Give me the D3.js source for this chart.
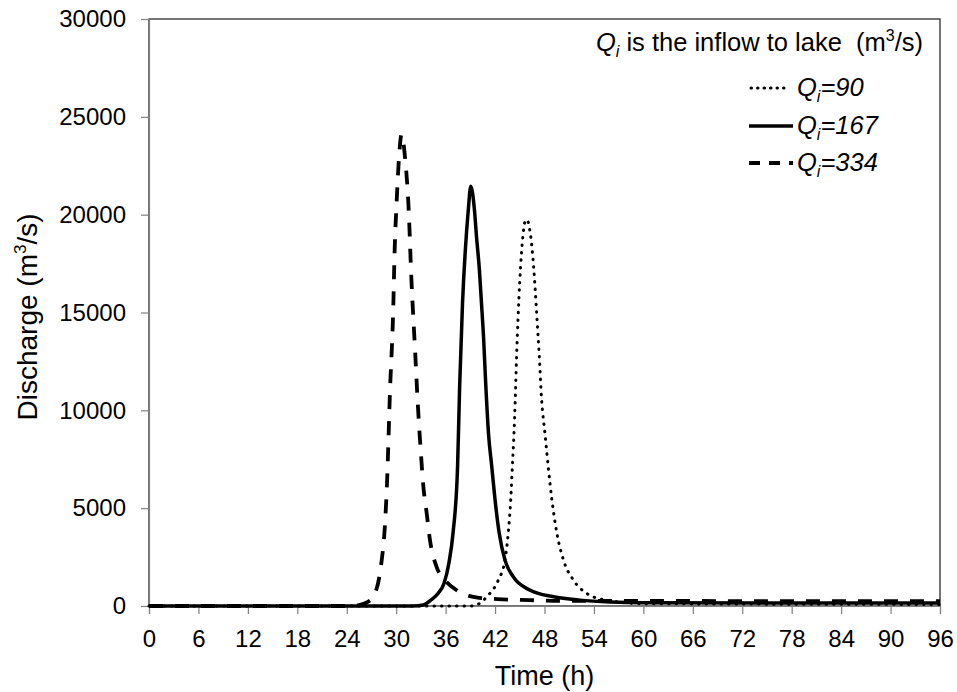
<!DOCTYPE html>
<html>
<head>
<meta charset="utf-8">
<script src="https://cdn.jsdelivr.net/npm/d3@7"></script>
<style>
  body { margin: 0; background: #fff; }
  svg { display: block; font-family: Arial, "Liberation Sans", sans-serif; }
</style>
</head>
<body>
<svg id="chart" width="957" height="692"></svg>
<script>
// ---------- data ----------
const xTickValues = [0, 6, 12, 18, 24, 30, 36, 42, 48, 54, 60, 66, 72, 78, 84, 90, 96];
const yTickValues = [0, 5000, 10000, 15000, 20000, 25000, 30000];

const seriesNames = ["90", "167", "334"];

// Qi = 90 (dotted)
const time90 = [0, 39, 40.2, 41, 42.4, 43.2, 43.6, 43.9, 44.1, 44.3, 44.45, 44.6, 44.8, 45.0, 45.2, 45.4, 45.6, 45.85, 46.2, 46.55, 46.85, 47.1, 47.35, 47.65, 48.05, 48.45, 48.9, 49.5, 50.3, 51.5, 53.1, 55.5, 60, 96];
const flow90 = [0, 0, 150, 475, 1330, 2350, 3730, 5420, 7120, 8840, 10530, 12600, 14800, 16600, 18000, 19000, 19600, 19750, 19250, 18000, 16300, 14600, 12900, 10530, 8840, 7120, 5420, 3730, 2350, 1330, 650, 300, 120, 80];

// Qi = 167 (solid)
const time167 = [0, 32, 33.3, 34.2, 35.1, 35.8, 36.4, 36.9, 37.45, 37.7, 38.05, 38.5, 38.75, 39.05, 39.5, 39.75, 40.1, 40.35, 40.6, 40.85, 41.2, 41.6, 42.0, 42.5, 43.2, 44.2, 46.2, 49.1, 52.3, 56, 60, 96];
const flow167 = [0, 0, 50, 300, 650, 1150, 2200, 3730, 7120, 11200, 15480, 18870, 20230, 21450, 20230, 18870, 17170, 15480, 13760, 11500, 8840, 7120, 5420, 3730, 2350, 1500, 820, 475, 300, 200, 160, 150];

// Qi = 334 (dashed)
const time334 = [0, 24, 25.5, 26.5, 27.2, 28.2, 28.6, 28.9, 29.25, 29.65, 29.8, 30.05, 30.35, 30.65, 31.1, 31.5, 31.85, 32.3, 32.6, 33.0, 33.3, 33.7, 34.1, 34.9, 35.9, 37.3, 39.7, 42.9, 46.2, 50, 96];
const flow334 = [0, 0, 50, 200, 460, 2200, 3900, 6440, 11000, 15300, 18000, 20600, 22960, 24100, 22800, 20400, 16660, 13000, 10500, 7800, 6100, 4750, 3370, 2000, 1330, 820, 440, 340, 300, 260, 250];

// ---------- layout ----------
const svg = d3.select("#chart");
const L = 149, R = 940, T = 19, B = 606;

const x = d3.scaleLinear().domain([0, 96]).range([L, R]);
const y = d3.scaleLinear().domain([0, 30000]).range([B, T]);

// frame (top & right)
svg.append("rect")
  .attr("x", L).attr("y", T).attr("width", R - L).attr("height", B - T)
  .attr("fill", "none").attr("stroke", "#1a1a1a").attr("stroke-width", 1.2);

// axes
const xAxis = svg.append("g").attr("transform", `translate(0,${B})`)
  .call(d3.axisBottom(x).tickValues(xTickValues).tickSize(8).tickPadding(16).tickFormat(d3.format("d")));
const yAxis = svg.append("g").attr("transform", `translate(${L},0)`)
  .call(d3.axisLeft(y).tickValues(yTickValues).tickSize(8).tickPadding(15).tickFormat(d3.format("d")));

[xAxis, yAxis].forEach(g => {
  g.select(".domain").attr("stroke", "#808080").attr("stroke-width", 1.2);
  g.selectAll(".tick line").attr("stroke", "#808080").attr("stroke-width", 1.2);
  g.selectAll(".tick text").attr("fill", "#000").attr("font-size", 24)
    .attr("font-family", "Arial, 'Liberation Sans', sans-serif");
});

// lines
const line = d3.line().x(d => x(d[0])).y(d => y(d[1])).curve(d3.curveMonotoneX);
const styles = {
  "90": { dash: "0.5,7", width: 3, cap: "round" },
  "167": { dash: null, width: 3.5, cap: "butt" },
  "334": { dash: "14,12", width: 3.8, cap: "butt" }
};
const data = {
  "90": d3.zip(time90, flow90),
  "167": d3.zip(time167, flow167),
  "334": d3.zip(time334, flow334)
};
seriesNames.forEach(k => {
  const s = styles[k];
  svg.append("path")
    .datum(data[k])
    .attr("d", line)
    .attr("fill", "none")
    .attr("stroke", "#000")
    .attr("stroke-width", s.width)
    .attr("stroke-linecap", s.cap)
    .attr("stroke-linejoin", "round")
    .attr("stroke-dasharray", s.dash);
});

// axis titles
svg.append("text")
  .attr("x", (L + R) / 2).attr("y", 685)
  .attr("text-anchor", "middle").attr("font-size", 27)
  .text("Time (h)");

const yt = svg.append("text")
  .attr("transform", `translate(37,317) rotate(-90)`)
  .attr("text-anchor", "middle").attr("font-size", 28);
yt.append("tspan").text("Discharge (m");
yt.append("tspan").attr("font-size", 17).attr("dy", -11).text("3");
yt.append("tspan").attr("dy", 11).text("/s)");

// legend title
const lt = svg.append("text")
  .attr("x", 923).attr("y", 51).attr("text-anchor", "end").attr("font-size", 25.5);
lt.append("tspan").attr("font-style", "italic").text("Q");
lt.append("tspan").attr("font-style", "italic").attr("font-size", 16).attr("dy", 6).text("i");
lt.append("tspan").attr("dy", -6).text(" is the inflow to lake\u00A0\u00A0(m");
lt.append("tspan").attr("font-size", 16).attr("dy", -10).text("3");
lt.append("tspan").attr("dy", 10).text("/s)");

// legend entries
const legY = { "90": 88, "167": 126, "334": 163 };
seriesNames.forEach(k => {
  const s = styles[k];
  const ly = legY[k];
  svg.append("line")
    .attr("x1", k === "90" ? 751 : 749).attr("x2", k === "90" ? 788 : 793)
    .attr("y1", ly).attr("y2", ly)
    .attr("stroke", "#000")
    .attr("stroke-width", s.width)
    .attr("stroke-linecap", s.cap)
    .attr("stroke-dasharray", k === "90" ? "0.5,6" : (k === "334" ? "11,9" : null));
  const t = svg.append("text").attr("x", 797).attr("y", ly + 8)
    .attr("font-size", 25.5).attr("font-style", "italic");
  t.append("tspan").text("Q");
  t.append("tspan").attr("font-size", 16).attr("dy", 6).text("i");
  t.append("tspan").attr("dy", -6).text("=" + k);
});
</script>
</body>
</html>
